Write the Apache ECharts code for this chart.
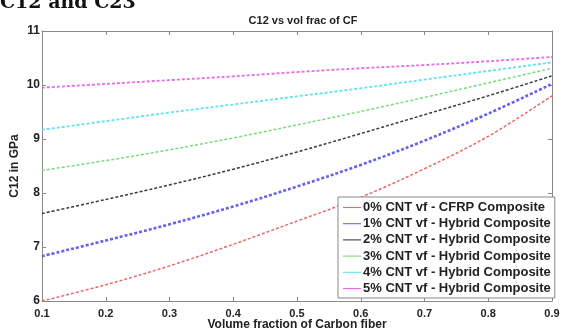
<!DOCTYPE html>
<html>
<head>
<meta charset="utf-8">
<script src="https://cdn.jsdelivr.net/npm/echarts@6/dist/echarts.min.js"></script>
<style>
html,body{margin:0;padding:0;background:#fff;}
#chart{width:563px;height:331px;}
</style>
</head>
<body>
<div id="chart"></div>
<script>
const volFrac = [0.1, 0.2, 0.3, 0.4, 0.5, 0.6, 0.7, 0.8, 0.9];
const cnt0 = [6.00, 6.30, 6.65, 7.05, 7.48, 7.92, 8.45, 9.05, 9.80];
const cnt1 = [6.83, 7.12, 7.42, 7.75, 8.12, 8.52, 8.97, 9.47, 10.02];
const cnt2 = [7.62, 7.88, 8.15, 8.44, 8.76, 9.10, 9.45, 9.80, 10.17];
const cnt3 = [8.42, 8.60, 8.80, 9.02, 9.26, 9.51, 9.77, 10.04, 10.31];
const cnt4 = [9.17, 9.33, 9.49, 9.64, 9.79, 9.94, 10.10, 10.26, 10.42];
const cnt5 = [9.95, 10.02, 10.09, 10.16, 10.24, 10.31, 10.37, 10.44, 10.52];
const seriesNames = [
  '0% CNT vf - CFRP Composite',
  '1% CNT vf - Hybrid Composite',
  '2% CNT vf - Hybrid Composite',
  '3% CNT vf - Hybrid Composite',
  '4% CNT vf - Hybrid Composite',
  '5% CNT vf - Hybrid Composite'
];
const seriesData = [cnt0, cnt1, cnt2, cnt3, cnt4, cnt5];
const colors = ['#e8686a', '#6464e8', '#3a3a3a', '#78dc78', '#5ee4ec', '#e868ec'];
const widths = [1.5, 2.6, 1.5, 1.5, 1.8, 1.8];

const chart = echarts.init(document.getElementById('chart'), null, {renderer: 'canvas'});
const FONT = '"Liberation Sans", Arial, sans-serif';
const LEGEND_ICON = 'path://M0,5.4h20v1.2h-20z';

const series = seriesData.map((vals, i) => ({
  name: seriesNames[i],
  type: 'line',
  data: vals.map((v, j) => [volFrac[j], v]),
  smooth: 0.35,
  symbol: 'none',
  color: colors[i],
  lineStyle: {color: colors[i], width: widths[i], type: [3, 2]},
  z: 3
}));

chart.setOption({
  animation: false,
  backgroundColor: '#fff',
  title: {
    text: 'C12 vs vol frac of CF',
    left: 298, top: 10, textAlign: 'center',
    textStyle: {fontFamily: FONT, fontSize: 11, fontWeight: 'bold', color: '#222'}
  },
  graphic: [{
    type: 'text', left: 0, top: -6,
    style: {text: 'C12 and C23', font: 'bold 19px "DejaVu Serif", serif', fill: '#111'}
  }],
  legend: {
    orient: 'vertical',
    left: 338, top: 197,
    padding: [4, 4, 3, 5],
    itemGap: 3.2,
    itemWidth: 18, itemHeight: 12,
    backgroundColor: '#fff',
    borderColor: '#888', borderWidth: 1,
    textStyle: {fontFamily: FONT, fontSize: 13, lineHeight: 13, fontWeight: 'bold', color: '#222', padding: [0, 0, 0, -3]},
    data: seriesNames.map(n => ({name: n, icon: LEGEND_ICON}))
  },
  grid: {left: 42, right: 11, top: 31, bottom: 30, outerBoundsMode: 'none', containLabel: false},
  xAxis: [{
    type: 'value', min: 0.1, max: 0.9, interval: 0.1,
    name: 'Volume fraction of Carbon fiber', nameLocation: 'middle', nameGap: 18,
    nameMoveOverlap: false,
    nameTextStyle: {fontFamily: FONT, fontSize: 12, fontWeight: 'bold', color: '#222'},
    axisLine: {show: true, lineStyle: {color: '#888', width: 1}},
    axisTick: {show: true, inside: true, length: 4, lineStyle: {color: '#888'}},
    axisLabel: {fontFamily: FONT, fontSize: 11, fontWeight: 'bold', color: '#222', margin: 7,
      formatter: v => v.toFixed(1)},
    splitLine: {show: false}
  }, {
    type: 'value', position: 'top', min: 0.1, max: 0.9, interval: 0.1,
    axisLine: {show: true, lineStyle: {color: '#888', width: 1}},
    axisTick: {show: true, inside: true, length: 4, lineStyle: {color: '#888'}},
    axisLabel: {show: false}, splitLine: {show: false}
  }],
  yAxis: [{
    type: 'value', min: 6, max: 11, interval: 1,
    name: 'C12 in GPa', nameLocation: 'middle', nameGap: 21, nameRotate: 90,
    nameMoveOverlap: false,
    nameTextStyle: {fontFamily: FONT, fontSize: 12, fontWeight: 'bold', color: '#222'},
    axisLine: {show: true, lineStyle: {color: '#888', width: 1}},
    axisTick: {show: true, inside: true, length: 4, lineStyle: {color: '#888'}},
    axisLabel: {fontFamily: FONT, fontSize: 12, fontWeight: 'bold', color: '#222', margin: 2},
    splitLine: {show: false}
  }, {
    type: 'value', position: 'right', min: 6, max: 11, interval: 1,
    axisLine: {show: true, lineStyle: {color: '#888', width: 1}},
    axisTick: {show: true, inside: true, length: 4, lineStyle: {color: '#888'}},
    axisLabel: {show: false}, splitLine: {show: false}
  }],
  series: series
});
</script>
</body>
</html>
